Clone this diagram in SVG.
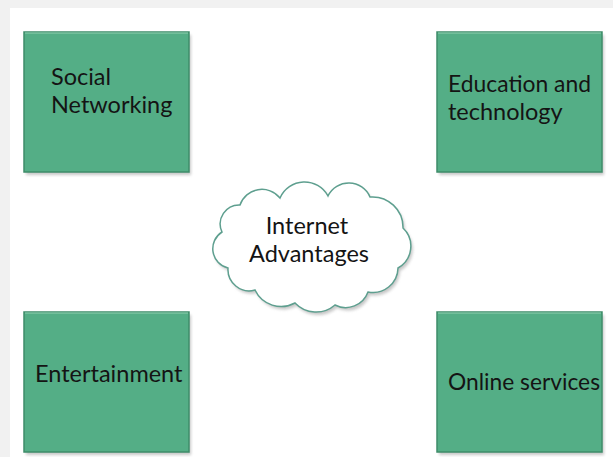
<svg xmlns="http://www.w3.org/2000/svg" width="613" height="457" viewBox="0 0 613 457">
<defs>
<style>
.box{fill:#54ae86;stroke:#3e8c69;stroke-width:1.5}
.shadow{fill:#9a9a9a;opacity:0.55}
.hl{stroke:#8fd0b0;stroke-width:1.2;fill:none}
.t{font-family:Lato,"Open Sans",sans-serif;font-size:23.5px;fill:#141414}
.cloud{fill:#ffffff;stroke:#5e9f8f;stroke-width:1.5}
</style>
<filter id="blur" x="-10%" y="-10%" width="120%" height="120%"><feGaussianBlur stdDeviation="1.5"/></filter>
<path id="cloudShape" d="M222,232 A19,19 0 0 1 240,205 A23.2,23.2 0 0 1 280,198 A26.7,26.7 0 0 1 328,196 A23.1,23.1 0 0 1 370,197 A30.5,30.5 0 0 1 403,228 A25,25 0 0 1 398,268 A25,25 0 0 1 368,292 A23.7,23.7 0 0 1 335,305 A29,29 0 0 1 295,303 A29,29 0 0 1 255,290 A21.3,21.3 0 0 1 228,268 A19.8,19.8 0 0 1 222,232 Z"/>
</defs>
<rect x="0" y="0" width="613" height="457" fill="#f1f1f1"/>
<rect x="10" y="8" width="603" height="449" fill="#ffffff"/>
<g id="social">
<rect class="shadow" x="26" y="35" width="165" height="140" filter="url(#blur)"/>
<rect class="box" x="24" y="32" width="165" height="140"/>
<path class="hl" d="M25,33 H188"/>
<text class="t" x="51" y="85">Social</text>
<text class="t" x="51" y="113">Networking</text>
</g>
<g id="education">
<rect class="shadow" x="439" y="35" width="165" height="140" filter="url(#blur)"/>
<rect class="box" x="437" y="32" width="165" height="140"/>
<path class="hl" d="M438,33 H601"/>
<text class="t" x="448" y="92" textLength="143" lengthAdjust="spacingAndGlyphs">Education and</text>
<text class="t" x="448" y="120">technology</text>
</g>
<g id="entertainment">
<rect class="shadow" x="26" y="315" width="165" height="140" filter="url(#blur)"/>
<rect class="box" x="24" y="312" width="165" height="140"/>
<path class="hl" d="M25,313 H188"/>
<text class="t" x="35" y="382">Entertainment</text>
</g>
<g id="online">
<rect class="shadow" x="439" y="315" width="165" height="140" filter="url(#blur)"/>
<rect class="box" x="437" y="312" width="165" height="140"/>
<path class="hl" d="M438,313 H601"/>
<text class="t" x="448" y="390" textLength="152" lengthAdjust="spacingAndGlyphs">Online services</text>
</g>
<g id="cloud">
<use href="#cloudShape" class="shadow" transform="translate(2,3)" filter="url(#blur)"/>
<use href="#cloudShape" class="cloud"/>
<text class="t" x="307" y="234" text-anchor="middle">Internet</text>
<text class="t" x="309" y="262" text-anchor="middle">Advantages</text>
</g>
<g id="connectors"/>
</svg>
